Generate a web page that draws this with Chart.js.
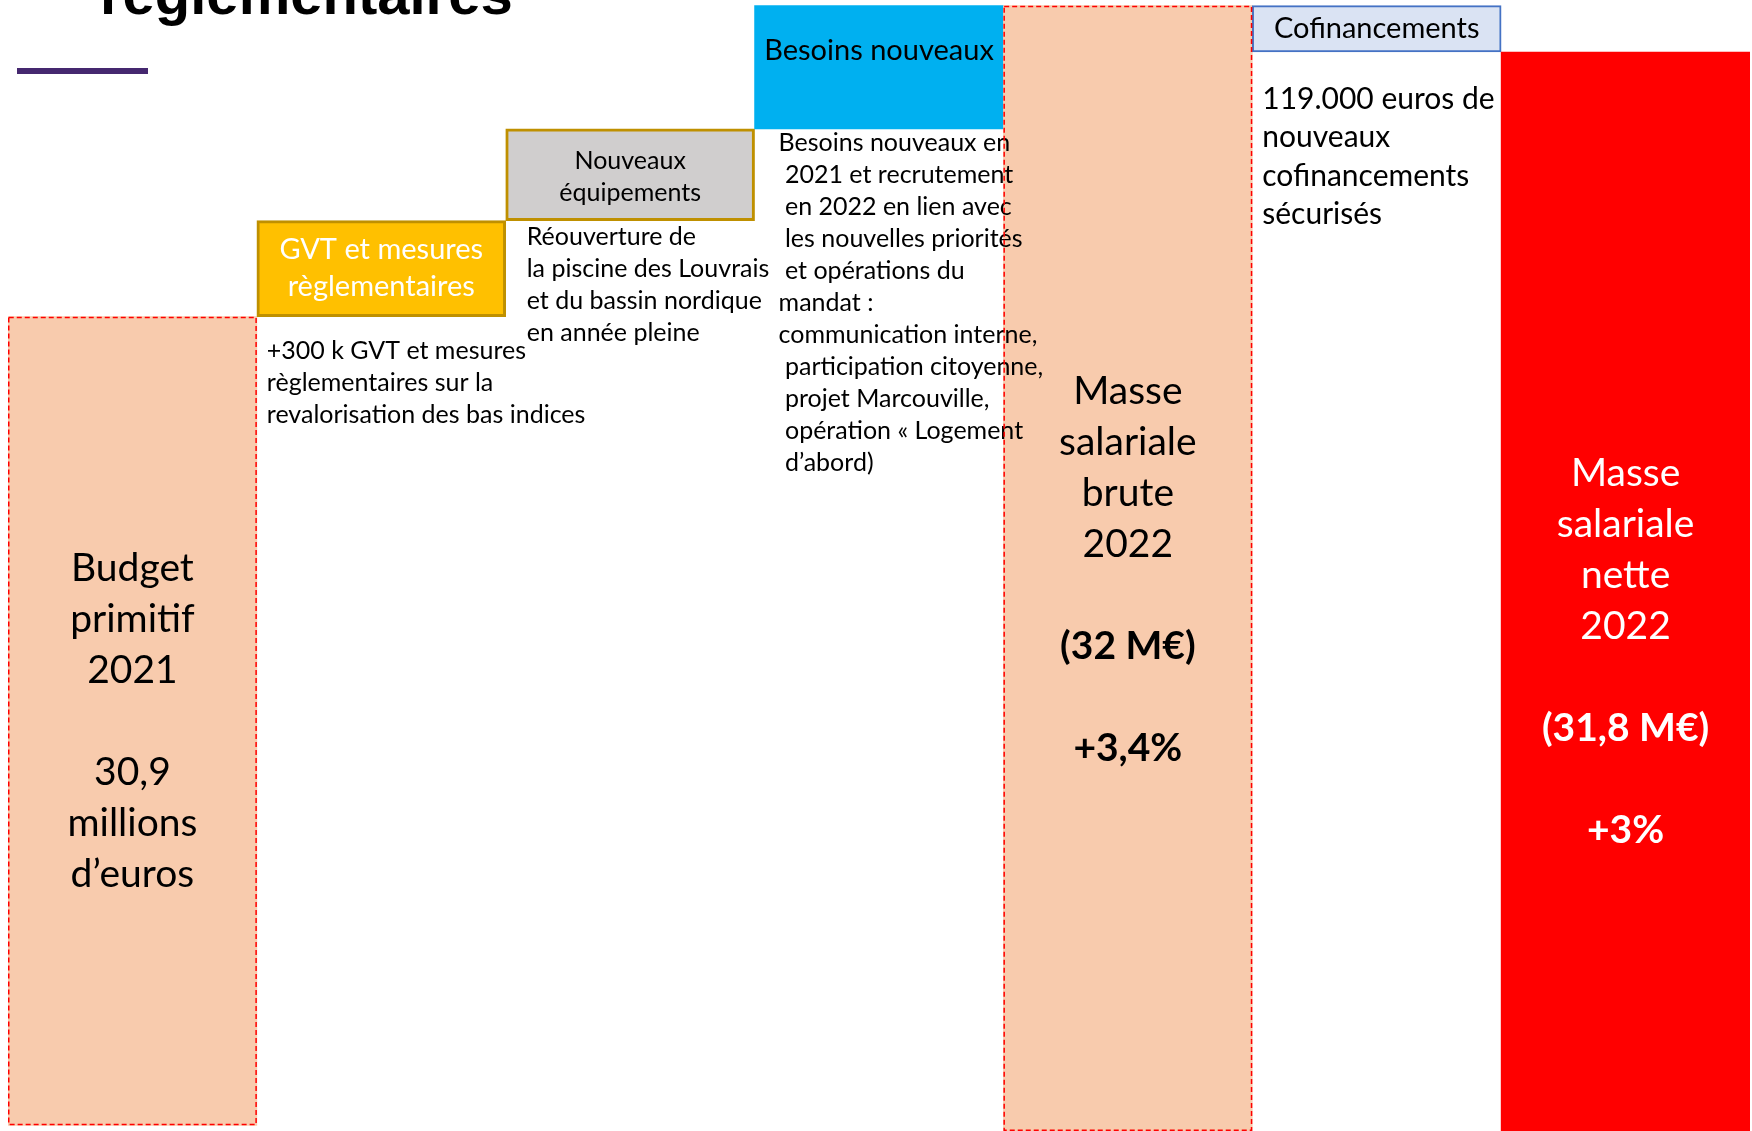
<!DOCTYPE html>
<html lang="fr">
<head>
<meta charset="utf-8">
<title>Masse salariale 2022</title>
<script src="https://cdn.jsdelivr.net/npm/chart.js@4.4.1/dist/chart.umd.min.js"></script>
<style>
  html, body { margin: 0; padding: 0; background: #fff; overflow: hidden; }
  #wrap { position: relative; width: 1752px; height: 1131px; }
</style>
</head>
<body>
<div id="wrap"><canvas id="chart" width="1752" height="1131"></canvas></div>
<script>
// columns of the waterfall
const categories = [
  "Budget primitif 2021",
  "GVT et mesures règlementaires",
  "Nouveaux équipements",
  "Besoins nouveaux",
  "Masse salariale brute 2022",
  "Cofinancements",
  "Masse salariale nette 2022",
];

// the slide is not drawn to scale, so heights are read off the picture (0-100 of its height)
const barStart = [0.5, 72, 80.5, 88.6, 0, 95.4, 0];
const barEnd = [72, 80.5, 88.6, 99.5, 99.5, 99.5, 95.4];

// text inside the bars / boxes
const barLabels = [
  ["Budget", "primitif", "2021", "", "30,9", "millions", "d’euros"],
  ["GVT et mesures", "règlementaires"],
  ["Nouveaux", "équipements"],
  ["Besoins nouveaux"],
  ["Masse", "salariale", "brute", "2022", "", "(32 M€)", "", "+3,4%"],
  ["Cofinancements"],
  ["Masse", "salariale", "nette", "2022", "", "(31,8 M€)", "", "+3%"],
];

// comments under each step
const notes = [
  [],
  ["+300 k GVT et mesures", "règlementaires sur la", "revalorisation des bas indices"],
  ["Réouverture de", "la piscine des Louvrais", "et du bassin nordique", "en année pleine"],
  ["Besoins nouveaux en", " 2021 et recrutement", " en 2022 en lien avec", " les nouvelles priorités",
   " et opérations du", "mandat :", "communication interne,", " participation citoyenne,",
   " projet Marcouville,", " opération « Logement", " d’abord)"],
  [],
  ["119.000 euros de", "nouveaux", "cofinancements", "sécurisés"],
  [],
];

const titleText = "règlementaires";

// styles
const FONT = "Lato, 'Open Sans', sans-serif";
const fills = ["#F8CBAD", "#FFC000", "#D0CECE", "#00B0F0", "#F8CBAD", "#DAE3F3", "#FF0000"];
const borders = ["#FF0000", "#BF9000", "#BF9000", "#00B0F0", "#FF0000", "#4472C4", "#FF0000"];
const borderWidths = [0, 3, 3, 0, 0, 2, 0];
const dashed = [true, false, false, false, true, false, false];

const labelStyle = [
  { size: 39, color: "#000", lh: 51, shift: 0 },
  { size: 29, color: "#fff", lh: 37, shift: 0 },
  { size: 25, color: "#000", lh: 32, shift: 2 },
  { size: 29, color: "#000", lh: 37, top: 45 },
  { size: 39, color: "#000", lh: 51, shift: 2 },
  { size: 29, color: "#000", lh: 37, shift: 0 },
  { size: 39, color: "#fff", lh: 51, shift: 60 },
];

const noteStyle = [
  null,
  { size: 25, lh: 32, dx: 10, dy: 34 },
  { size: 25, lh: 32, dx: 21, dy: 16 },
  { size: 25, lh: 32, dx: 24, dy: 14 },
  null,
  { size: 30, lh: 38.5, dx: 10, dy: 47 },
  null,
];

const waterfallText = {
  id: "waterfallText",
  afterDatasetsDraw(chart) {
    const ctx = chart.ctx;
    const bars = chart.getDatasetMeta(0).data;
    ctx.save();

    // title remainder and the purple rule of the slide
    ctx.fillStyle = "#000";
    ctx.font = "bold 58px 'Liberation Sans', Arial, sans-serif";
    ctx.textBaseline = "alphabetic";
    ctx.textAlign = "left";
    ctx.fillText(titleText, 100, 14);
    ctx.fillStyle = "#45286F";
    ctx.fillRect(17, 68, 131, 6);

    bars.forEach((bar, i) => {
      const { x, y, base, width } = bar.getProps(["x", "y", "base", "width"], true);
      const left = x - width / 2;

      // notes under the boxes
      const ns = noteStyle[i];
      if (ns) {
        ctx.fillStyle = "#000";
        ctx.font = ns.size + "px " + FONT;
        ctx.textAlign = "left";
        ctx.textBaseline = "middle";
        notes[i].forEach((line, k) => {
          ctx.fillText(line, left + ns.dx, base + ns.dy + k * ns.lh);
        });
      }

      // labels inside the boxes
      const ls = labelStyle[i];
      const lines = barLabels[i];
      ctx.fillStyle = ls.color;
      ctx.textAlign = "center";
      ctx.textBaseline = "middle";
      let y0;
      if (ls.top !== undefined) {
        y0 = y + ls.top;
      } else {
        y0 = (y + base) / 2 + ls.shift - (lines.length - 1) * ls.lh / 2;
      }
      lines.forEach((line, k) => {
        const bold = line.startsWith("(") || line.startsWith("+");
        ctx.font = (bold ? "bold " : "") + ls.size + "px " + FONT;
        ctx.fillText(line, x, y0 + k * ls.lh);
      });
    });

    // dashed red outlines of the totals
    ctx.setLineDash([5, 3]);
    ctx.lineWidth = 1.5;
    ctx.strokeStyle = "#FF0000";
    bars.forEach((bar, i) => {
      if (!dashed[i]) return;
      const { x, y, base, width } = bar.getProps(["x", "y", "base", "width"], true);
      ctx.strokeRect(x - width / 2 + 0.75, y + 0.75, width - 1.5, base - y - 1.5);
    });
    ctx.restore();
  },
};

new Chart(document.getElementById("chart"), {
  type: "bar",
  data: {
    labels: categories,
    datasets: [
      {
        data: barStart.map((v, i) => [v, barEnd[i]]),
        backgroundColor: fills,
        borderColor: borders,
        borderWidth: borderWidths,
        borderSkipped: false,
        categoryPercentage: 1,
        barPercentage: 1,
      },
    ],
  },
  options: {
    responsive: false,
    animation: false,
    devicePixelRatio: 1,
    layout: { padding: { left: 8, right: 2, top: 0, bottom: 0 } },
    plugins: { legend: { display: false }, tooltip: { enabled: false } },
    scales: {
      x: { display: false },
      y: { display: false, min: 0, max: 100 },
    },
  },
  plugins: [waterfallText],
});
</script>
</body>
</html>
